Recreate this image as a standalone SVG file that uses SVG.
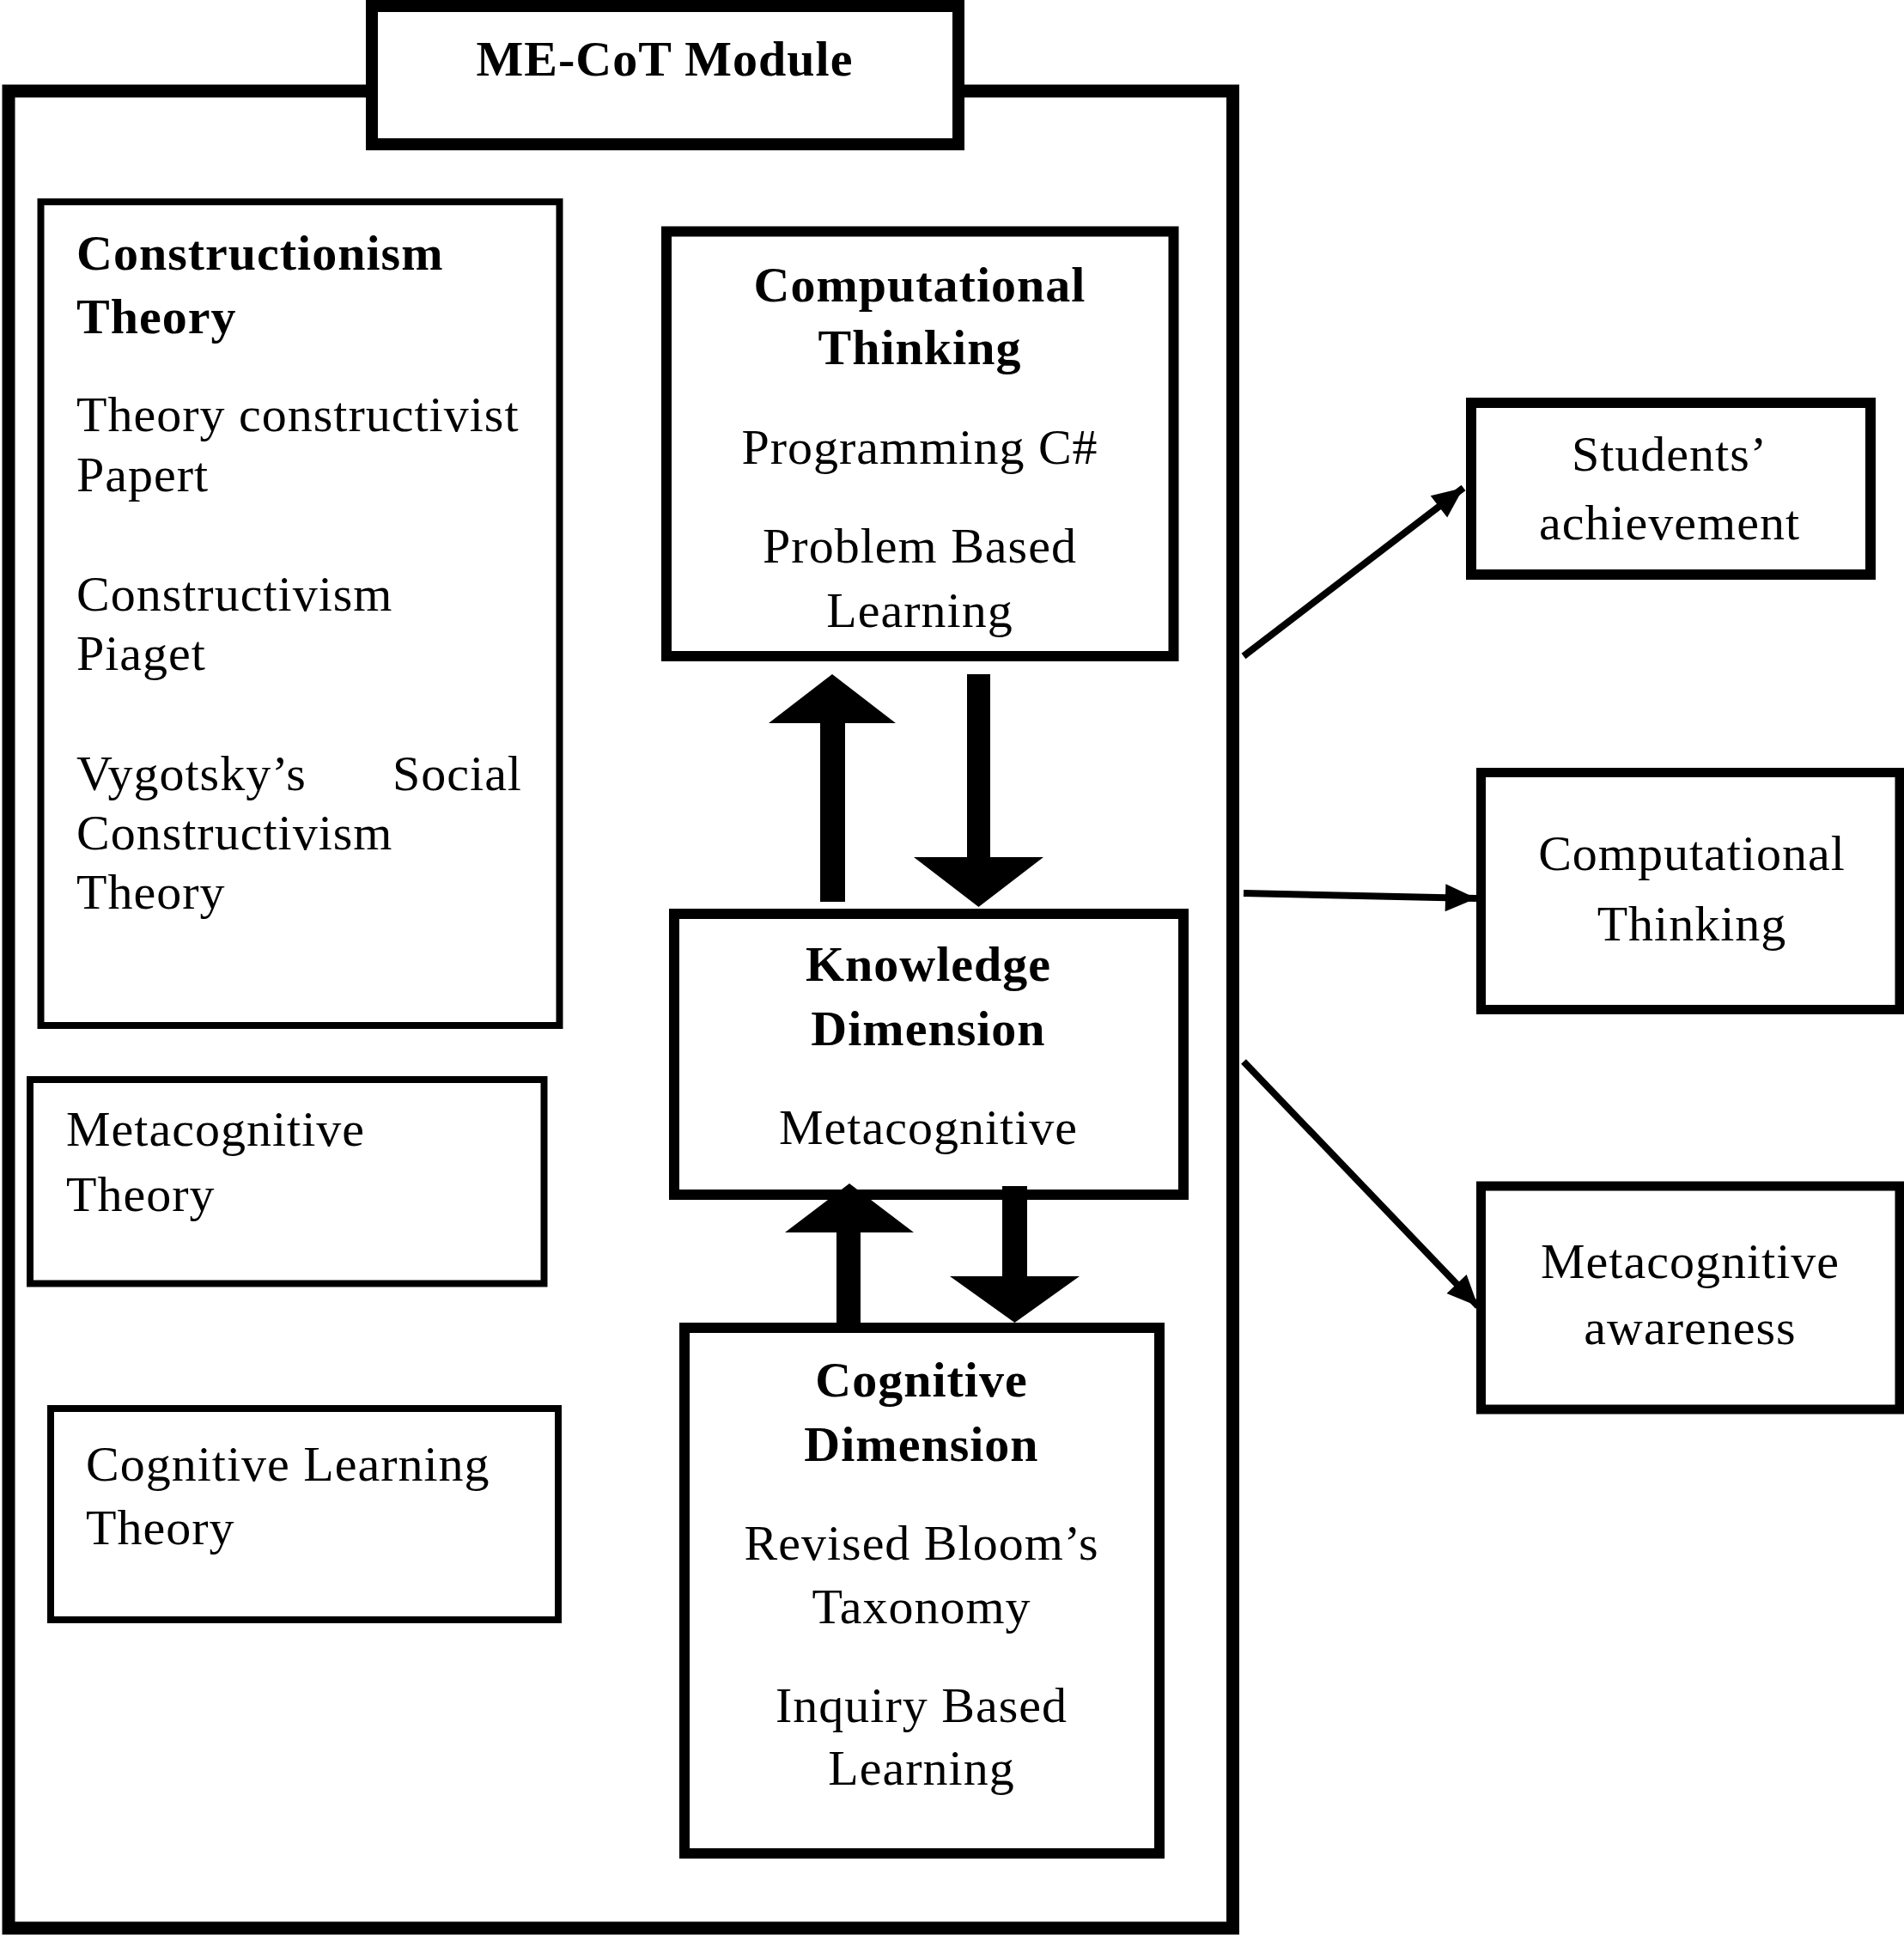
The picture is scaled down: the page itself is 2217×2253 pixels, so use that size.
<svg xmlns="http://www.w3.org/2000/svg" width="2217" height="2253" viewBox="0 0 2217 2253">
<defs>
<style>
.box{fill:#fff;stroke:#000}
.thick{stroke-width:12}
.thin{stroke-width:8}
.t{font-family:"Liberation Serif","Times New Roman",serif;font-size:58px;letter-spacing:1px;fill:#000}
.b{font-weight:bold}
.c{text-anchor:middle}
.conn{stroke:#000;stroke-width:8;fill:none}
</style>
<marker id="ah" markerUnits="userSpaceOnUse" markerWidth="40" markerHeight="40" viewBox="0 0 40 40" refX="38" refY="20" orient="auto">
<path d="M2,4 L38,20 L2,36 Z" fill="#000"/>
</marker>
</defs>
<rect width="2217" height="2253" fill="#fff"/>
<g id="frame">
<rect class="box" x="10" y="106" width="1425.5" height="2139" stroke-width="15"/>
</g>
<g id="title">
<rect class="box" x="433" y="7" width="683" height="161" stroke-width="14"/>
<text class="t b c" x="774" y="88">ME-CoT Module</text>
</g>
<g id="constructionism">
<rect class="box thin" x="47.5" y="235" width="604" height="959"/>
<text class="t b" x="89" y="314">Constructionism</text>
<text class="t b" x="89" y="388">Theory</text>
<text class="t" x="89" y="502">Theory constructivist</text>
<text class="t" x="89" y="572">Papert</text>
<text class="t" x="89" y="711">Constructivism</text>
<text class="t" x="89" y="780">Piaget</text>
<text class="t" x="89" y="920">Vygotsky’s</text>
<text class="t" x="608" y="920" text-anchor="end">Social</text>
<text class="t" x="89" y="989">Constructivism</text>
<text class="t" x="89" y="1058">Theory</text>
</g>
<g id="metacognitive-theory">
<rect class="box thin" x="35" y="1257" width="598.5" height="237.5"/>
<text class="t" x="77" y="1334">Metacognitive</text>
<text class="t" x="77" y="1410">Theory</text>
</g>
<g id="cognitive-learning-theory">
<rect class="box thin" x="59" y="1640" width="591" height="246"/>
<text class="t" x="100" y="1724">Cognitive Learning</text>
<text class="t" x="100" y="1798">Theory</text>
</g>
<g id="computational-thinking-core">
<rect class="box thick" x="776" y="269.5" width="590.5" height="494.5"/>
<text class="t b c" x="1071" y="351">Computational</text>
<text class="t b c" x="1071" y="424">Thinking</text>
<text class="t c" x="1071" y="540">Programming C#</text>
<text class="t c" x="1071" y="655">Problem Based</text>
<text class="t c" x="1071" y="730">Learning</text>
</g>
<g id="knowledge-dimension">
<rect class="box thick" x="785" y="1064" width="593" height="327"/>
<text class="t b c" x="1081" y="1142">Knowledge</text>
<text class="t b c" x="1081" y="1217">Dimension</text>
<text class="t c" x="1081" y="1332">Metacognitive</text>
</g>
<g id="cognitive-dimension">
<rect class="box thick" x="797" y="1546" width="553" height="612"/>
<text class="t b c" x="1073" y="1626">Cognitive</text>
<text class="t b c" x="1073" y="1701">Dimension</text>
<text class="t c" x="1073" y="1816">Revised Bloom’s</text>
<text class="t c" x="1073" y="1890">Taxonomy</text>
<text class="t c" x="1073" y="2005">Inquiry Based</text>
<text class="t c" x="1073" y="2078">Learning</text>
</g>
<g id="students-achievement">
<rect class="box thick" x="1713" y="469" width="465" height="200"/>
<text class="t c" x="1944" y="548">Students’</text>
<text class="t c" x="1944" y="628">achievement</text>
</g>
<g id="computational-thinking-outcome">
<rect class="box" x="1724.5" y="899.5" width="487.5" height="276" stroke-width="11"/>
<text class="t c" x="1970" y="1013">Computational</text>
<text class="t c" x="1970" y="1095">Thinking</text>
</g>
<g id="metacognitive-awareness">
<rect class="box" x="1724.5" y="1381" width="487.5" height="260" stroke-width="11"/>
<text class="t c" x="1968" y="1488">Metacognitive</text>
<text class="t c" x="1968" y="1565">awareness</text>
</g>
<g id="connectors">
<polygon points="955,1050 955,842 895,842 969,785 1043,842 984,842 984,1050" fill="#000"/>
<polygon points="1126,785 1153,785 1153,998 1215,998 1139.5,1056 1064,998 1126,998" fill="#000"/>
<polygon points="974,1541 974,1435 914,1435 989,1378 1064,1435 1002,1435 1002,1541" fill="#000"/>
<polygon points="1167,1381 1196,1381 1196,1486 1257,1486 1181.5,1540 1106,1486 1167,1486" fill="#000"/>
<line class="conn" x1="1448" y1="764" x2="1704" y2="568" marker-end="url(#ah)"/>
<line class="conn" x1="1448" y1="1040" x2="1719" y2="1046" marker-end="url(#ah)"/>
<line class="conn" x1="1448" y1="1236" x2="1721" y2="1521" marker-end="url(#ah)"/>
</g>
</svg>
